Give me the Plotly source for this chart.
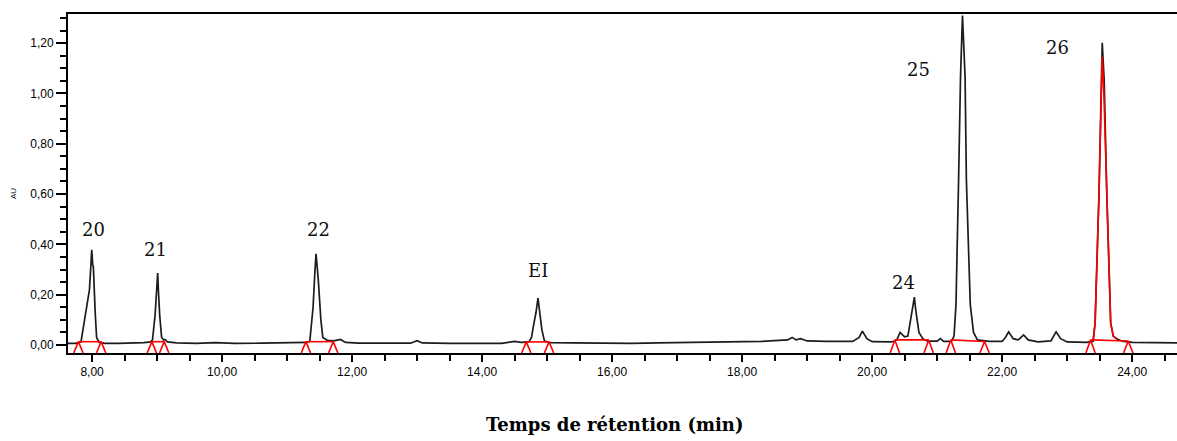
import plotly.graph_objects as go

# Chromatogram trace (retention time in min, absorbance in AU)
time_min = [
    7.63, 7.75, 7.83, 7.88, 7.92, 7.96, 7.985, 7.995, 8.01, 8.02, 8.05, 8.07, 8.11, 8.2,
    8.4, 8.6, 8.8, 8.9,
    8.93, 8.97, 8.995, 9.01, 9.02, 9.04, 9.07, 9.1, 9.12, 9.16, 9.3,
    9.6, 9.9, 10.2, 10.6, 11.0, 11.3,
    11.35, 11.40, 11.43, 11.446, 11.46, 11.48, 11.52, 11.55, 11.62, 11.72, 11.82, 11.9, 12.1,
    12.5, 12.9, 13.0, 13.08, 13.5, 14.0, 14.3, 14.5, 14.6, 14.72,
    14.76, 14.80, 14.83, 14.86, 14.88, 14.92, 14.96, 15.05, 15.4,
    15.8, 16.3, 16.7, 17.2, 17.6, 18.0, 18.3, 18.5, 18.7, 18.77, 18.83, 18.9, 19.0, 19.3,
    19.7, 19.8, 19.85, 19.92, 20.0, 20.3, 20.38, 20.43, 20.5, 20.55, 20.6, 20.65, 20.67,
    20.72, 20.78, 20.85, 21.0, 21.05, 21.1, 21.22, 21.26,
    21.29, 21.33, 21.36, 21.39, 21.43, 21.45, 21.51, 21.56, 21.62, 21.8,
    22.0, 22.05, 22.1, 22.17, 22.25, 22.33, 22.4, 22.55, 22.75, 22.83, 22.9, 23.0,
    23.3, 23.4, 23.43, 23.49, 23.52, 23.54, 23.57, 23.61, 23.67, 23.71, 23.76, 23.85,
    24.0, 24.3, 24.69,
]
absorbance = [
    0.006, 0.006, 0.012, 0.09, 0.167, 0.22, 0.33, 0.378, 0.32, 0.31, 0.12, 0.03, 0.01, 0.006,
    0.006, 0.007, 0.009, 0.012,
    0.02, 0.12, 0.227, 0.286, 0.22, 0.12, 0.03, 0.02, 0.022, 0.012, 0.008,
    0.006, 0.009, 0.006, 0.007, 0.008, 0.01,
    0.015, 0.15, 0.30, 0.362, 0.32, 0.26, 0.10, 0.03, 0.018, 0.016, 0.022, 0.01, 0.007,
    0.007, 0.007, 0.017, 0.008, 0.006, 0.007, 0.006, 0.014, 0.01, 0.012,
    0.03, 0.09, 0.13, 0.186, 0.14, 0.06, 0.015, 0.009, 0.008,
    0.007, 0.006, 0.008, 0.01, 0.01, 0.012, 0.014, 0.017, 0.02, 0.03, 0.02, 0.025, 0.016, 0.014,
    0.014, 0.03, 0.055, 0.025, 0.013, 0.012, 0.02, 0.05, 0.032, 0.035, 0.12, 0.19, 0.14,
    0.05, 0.025, 0.015, 0.015, 0.025, 0.014, 0.014, 0.035,
    0.16, 0.656, 1.067, 1.31, 1.067, 0.656, 0.16, 0.05, 0.02, 0.014,
    0.014, 0.03, 0.052, 0.025, 0.02, 0.04, 0.02, 0.012, 0.016, 0.052, 0.025, 0.012,
    0.01, 0.015, 0.087, 0.6, 1.05, 1.202, 1.05, 0.6, 0.087, 0.035, 0.025, 0.015,
    0.01, 0.008, 0.008,
]

# Integrated signal of peak 26
peak26_time = [23.40, 23.43, 23.49, 23.52, 23.54, 23.565, 23.61, 23.67, 23.71, 23.76]
peak26_abs = [0.015, 0.087, 0.6, 1.0, 1.146, 1.0, 0.6, 0.087, 0.035, 0.025]

# Integration events: start/end times and baseline levels
int_start = [7.79, 8.92, 11.29, 14.68, 20.35, 21.21, 23.36]
int_end = [8.14, 9.11, 11.71, 15.03, 20.87, 21.73, 23.94]
int_level_start = [0.013, 0.013, 0.013, 0.012, 0.020, 0.020, 0.020]
int_level_end = [0.013, 0.013, 0.013, 0.012, 0.020, 0.014, 0.016]

# Peak labels
peak_names = ["20", "21", "22", "EI", "24", "25", "26"]
label_time = [8.02, 8.97, 11.48, 14.86, 20.49, 20.72, 22.85]
label_abs = [0.461, 0.378, 0.461, 0.298, 0.25, 1.097, 1.181]

X_RANGE = [7.63, 24.69]
Y_RANGE = [-0.032, 1.316]
CARET_HALF = 0.072

fig = go.Figure()

fig.add_trace(go.Scatter(
    x=time_min, y=absorbance, mode="lines",
    line=dict(color="#1c1c1c", width=1.7), hoverinfo="skip", showlegend=False,
))

fig.add_trace(go.Scatter(
    x=peak26_time, y=peak26_abs, mode="lines",
    line=dict(color="#ff0000", width=1.6), hoverinfo="skip", showlegend=False,
))

# Red integration baselines and event carets
bx, by = [], []
for s, e, ls, le in zip(int_start, int_end, int_level_start, int_level_end):
    bx += [s, e, None]
    by += [ls, le, None]
    for t, lv in ((s, ls), (e, le)):
        bx += [t - CARET_HALF, t, t + CARET_HALF, None]
        by += [Y_RANGE[0], lv, Y_RANGE[0], None]
fig.add_trace(go.Scatter(
    x=bx, y=by, mode="lines",
    line=dict(color="#ff0000", width=1.6), hoverinfo="skip", showlegend=False,
))

for name, tx, ty in zip(peak_names, label_time, label_abs):
    fig.add_annotation(
        x=tx, y=ty, text=name, showarrow=False,
        xanchor="center", yanchor="middle",
        font=dict(family="DejaVu Serif", size=18, color="#111111"),
    )

fig.add_annotation(
    xref="paper", yref="paper", x=-0.0487, y=0.472, text="AU", textangle=-90,
    showarrow=False, xanchor="center", yanchor="middle",
    font=dict(family="Liberation Sans", size=8, color="#000000"),
)
fig.add_annotation(
    xref="paper", yref="paper", x=0.493, y=-0.212,
    text="<b>Temps de rétention (min)</b>", showarrow=False,
    xanchor="center", yanchor="middle",
    font=dict(family="DejaVu Serif", size=18, color="#000000"),
)

axis_font = dict(family="Liberation Sans", size=12, color="#000000")

fig.update_xaxes(
    range=X_RANGE, tick0=0, dtick=2, tickformat=".2f",
    ticks="outside", ticklen=7, tickwidth=1.5, tickcolor="#000000",
    minor=dict(dtick=0.5, tick0=0, ticks="outside", ticklen=6, tickwidth=1.5, tickcolor="#000000"),
    showline=True, linecolor="#000000", linewidth=2, mirror=True,
    showgrid=False, zeroline=False, tickfont=axis_font,
)
fig.update_yaxes(
    range=Y_RANGE, tick0=0, dtick=0.2, tickformat=".2f",
    ticks="outside", ticklen=10, tickwidth=1.5, tickcolor="#000000",
    minor=dict(dtick=0.05, tick0=0, ticks="outside", ticklen=6, tickwidth=1.5, tickcolor="#000000"),
    showline=True, linecolor="#000000", linewidth=2,
    showgrid=False, zeroline=False, tickfont=axis_font,
)

fig.update_layout(
    width=1177, height=441,
    margin=dict(l=68, r=0, t=14, b=88),
    plot_bgcolor="#ffffff", paper_bgcolor="#ffffff",
    separators=",.",
    showlegend=False,
)

fig.write_html("out.html")
